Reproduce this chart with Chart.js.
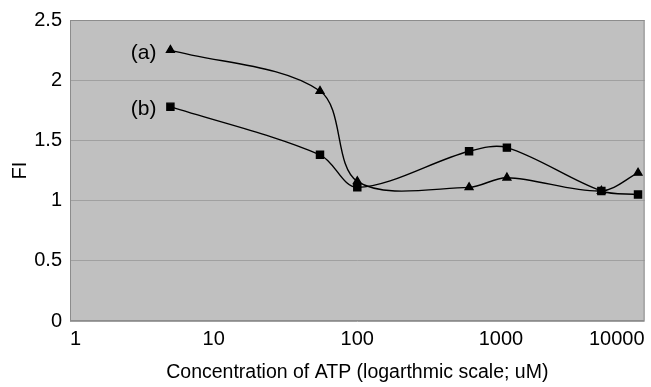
<!DOCTYPE html>
<html>
<head>
<meta charset="utf-8">
<script src="https://cdn.jsdelivr.net/npm/chart.js@4/dist/chart.umd.min.js"></script>
<style>
  html, body { margin: 0; padding: 0; background: #fff; }
  #fichart { display: block; }
</style>
</head>
<body>
<canvas id="fichart" width="651" height="387"></canvas>
<script>
// ATP concentration (uM) and fluorescence intensity for the two curves
const atpConc = [5, 55, 100, 600, 1100, 5000, 9000];
const fiA = [2.25, 1.91, 1.16, 1.11, 1.19, 1.08, 1.23];
const fiB = [1.78, 1.38, 1.11, 1.41, 1.44, 1.08, 1.05];
const seriesNames = ['(a)', '(b)'];
const xTicks = [1, 10, 100, 1000, 10000];
const yTicks = [0, 0.5, 1, 1.5, 2, 2.5];

const font = "'Liberation Sans', Arial, sans-serif";

//grey plot box behind the curves
const plotBg = {
  id: 'plotBg',
  beforeDraw(chart) {
    const { ctx, chartArea: a } = chart;
    ctx.save();
    ctx.fillStyle = '#c0c0c0';
    ctx.fillRect(a.left, a.top, a.right - a.left, a.bottom - a.top);
    ctx.restore();
  },
  afterDatasetsDraw(chart) {
    const { ctx, chartArea: a } = chart;
    ctx.save();
    ctx.strokeStyle = '#8c8c8c';
    ctx.lineWidth = 1;
    ctx.strokeRect(a.left + 0.5, a.top + 0.5, a.right - a.left - 1, a.bottom - a.top - 1);
    // series names next to first point
    ctx.fillStyle = '#000';
    ctx.font = '21px ' + font;
    ctx.textAlign = 'right';
    ctx.textBaseline = 'middle';
    chart.data.datasets.forEach((ds, i) => {
      const pt = chart.getDatasetMeta(i).data[0];
      ctx.fillText(seriesNames[i], pt.x - 14, pt.y + 3);
    });
    ctx.restore();
  }
};

const toPoints = (ys) => atpConc.map((x, i) => ({ x: x, y: ys[i] }));

new Chart(document.getElementById('fichart'), {
  type: 'line',
  data: {
    datasets: [{
      label: seriesNames[0],
      data: toPoints(fiA),
      borderColor: '#000',
      backgroundColor: '#000',
      borderWidth: 1.4,
      pointStyle: 'triangle',
      pointRadius: 4.5,
      tension: 0.33
    }, {
      label: seriesNames[1],
      data: toPoints(fiB),
      borderColor: '#000',
      backgroundColor: '#000',
      borderWidth: 1.4,
      pointStyle: 'rect',
      pointRadius: 5,
      tension: 0.33
    }]
  },
  options: {
    responsive: false,
    animation: false,
    layout: { padding: { top: 20, right: 3, left: 0, bottom: 0 } },
    plugins: { legend: { display: false }, tooltip: { enabled: false } },
    scales: {
      x: {
        type: 'logarithmic',
        min: xTicks[0],
        max: xTicks[xTicks.length - 1],
        afterBuildTicks: (axis) => { axis.ticks = xTicks.map(v => ({ value: v })); },
        afterFit: (axis) => { axis.height = 66; },
        grid: { display: false, drawTicks: false },
        border: { display: false },
        ticks: {
          align: 'inner',
          padding: 6,
          color: '#000',
          font: { family: font, size: 20 },
          callback: (v) => String(v)
        },
        title: {
          display: true,
          text: 'Concentration of ATP (logarthmic scale; uM)',
          color: '#000',
          font: { family: font, size: 19.5 },
          padding: { top: 0, bottom: 3 }
        }
      },
      y: {
        min: yTicks[0],
        max: yTicks[yTicks.length - 1],
        afterBuildTicks: (axis) => { axis.ticks = yTicks.map(v => ({ value: v })); },
        afterFit: (axis) => { axis.width = 70; },
        grid: { color: '#a0a0a0', drawTicks: false, lineWidth: 1 },
        border: { display: false },
        ticks: {
          padding: 8,
          color: '#000',
          font: { family: font, size: 20 },
          callback: (v) => String(v)
        },
        title: {
          display: true,
          text: 'FI',
          color: '#000',
          font: { family: font, size: 20 },
          padding: { top: 8, bottom: 0 }
        }
      }
    }
  },
  plugins: [plotBg]
});
</script>
</body>
</html>
